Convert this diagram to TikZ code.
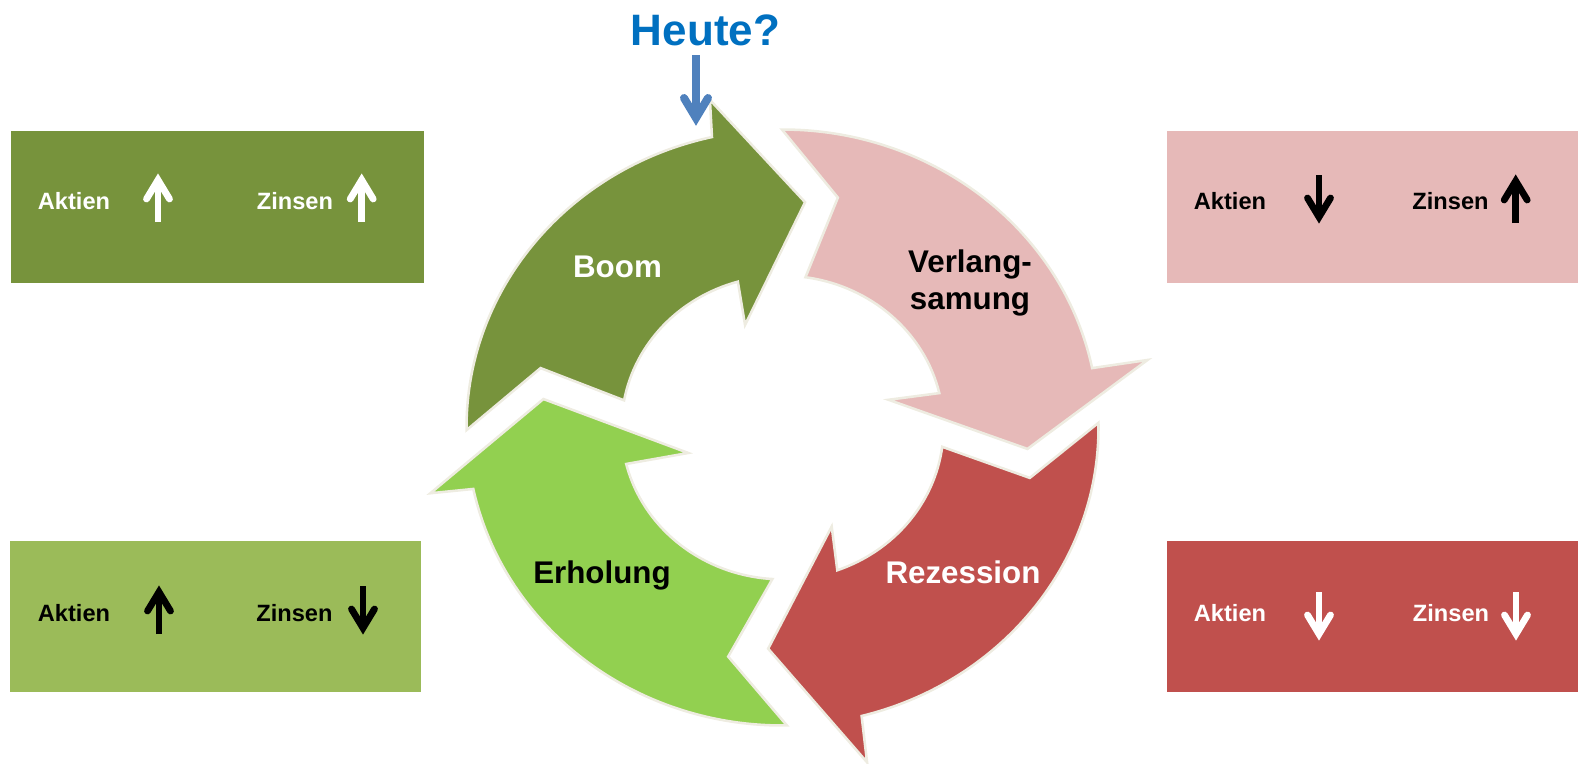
\documentclass[tikz,border=0pt]{standalone}
\usepackage{fontspec}
\setmainfont{Liberation Sans}
\definecolor{cBoom}{HTML}{77933C}
\definecolor{cVerl}{HTML}{E6B9B8}
\definecolor{cRez}{HTML}{C0504D}
\definecolor{cErh}{HTML}{92D050}
\definecolor{cBL}{HTML}{9BBB59}
\definecolor{cEdge}{HTML}{EEECE1}
\definecolor{cHeute}{HTML}{0070C0}
\definecolor{cHarrow}{HTML}{4F81BD}
\begin{document}
\begin{tikzpicture}[x=0.75pt,y=-0.75pt,
  lab/.style={font=\bfseries\fontsize{23.5}{27.75}\selectfont, inner sep=0pt},
  boxtxt/.style={font=\bfseries\fontsize{17.7}{21}\selectfont, inner sep=0pt, anchor=base},
  cyc/.style={draw=cEdge, line width=1.9pt, line join=miter},
  pics/uparr/.style={code={
    \draw[line width=5.1pt, line cap=butt] (0,24) -- (0,-14);
    \draw[line width=5.1pt, line cap=round, line join=miter] (-11.5,1) -- (0,-18) -- (11.5,1);
  }},
  pics/downarr/.style={code={
    \draw[line width=5.1pt, line cap=butt] (0,-24) -- (0,14);
    \draw[line width=5.1pt, line cap=round, line join=miter] (-11.5,-1) -- (0,18) -- (11.5,-1);
  }}
]
\useasboundingbox (0,0) rectangle (1578,764);

% side boxes
\fill[cBoom] (11,131) rectangle (424,283);
\fill[cVerl] (1167,131) rectangle (1578,283);
\fill[cBL] (10,541) rectangle (421,692);
\fill[cRez] (1167,541) rectangle (1578,692);

% cycle arrows
\begin{scope}[shift={(782.5,427.5)}, x=0.75pt, y=0.75pt, yscale=0.943]
\foreach \k/\col/\ta/\na/\nr/\ti/\ie/\ba/\br/\tpa/\tpr/\oba/\obr/\oe in {
  0/cBoom/180.5/165.4/250/169.7/106.1/109/115/84.6/240/101.8/355/102.9,
  1/cVerl/180.1/167.2/250/171.8/103.1/105.5/110/84.7/246/101.1/372/101.5,
  2/cRez/180.9/167.8/253/172.7/109.9/115.1/116/86.5/235/103.4/365/104.5,
  3/cErh/180.8/167.4/249/176.4/103.9/106/98/82.8/241/101.2/359/101.9} {
  \path[rotate=-90*\k, fill=\col, cyc]
    (\ta:316) -- (\na:\nr) -- (\ti:161)
    arc[start angle=\ti, end angle=\ie, radius=161]
    -- (\ba:\br) -- (\tpa:\tpr) -- (\oba:\obr) -- (\oe:316)
    arc[start angle=\oe, end angle=\ta, radius=316] -- cycle;
}
\end{scope}

% arrow labels
\node[lab, anchor=base, text=white] (boom) at (617.5,277) {Boom};
\node[lab, anchor=center, align=center, text=black] (verl) at (970,283) {Verlang-\\samung};
\node[lab, anchor=base, text=white] (rez) at (963,583) {Rezession};
\node[lab, anchor=base, text=black] (erh) at (602,583) {Erholung};

% Heute?
\node[font=\bfseries\fontsize{33}{40}\selectfont, text=cHeute, inner sep=0pt, anchor=base] (heute) at (705.5,45.5) {Heute?};
\coordinate (htop) at (696,55);
\coordinate (htip) at (696,118);
\draw[cHarrow, line width=6pt, line cap=butt] (htop) -- (htip);
\draw[cHarrow, line width=6pt, line cap=round, line join=miter] ([xshift=-9pt,yshift=15pt]htip) -- (htip) -- ([xshift=9pt,yshift=15pt]htip);

% box texts
\node[boxtxt, text=white] (tlA) at (74,209) {Aktien};
\node[boxtxt, text=white] (tlZ) at (295,209) {Zinsen};
\pic[white] at (158,198) {uparr};
\pic[white] at (361.7,198) {uparr};

\node[boxtxt, text=black] (trA) at (1230,209) {Aktien};
\node[boxtxt, text=black] (trZ) at (1450.5,209) {Zinsen};
\pic[black] at (1319,199) {downarr};
\pic[black] at (1515.7,199) {uparr};

\node[boxtxt, text=black] (blA) at (74,621) {Aktien};
\node[boxtxt, text=black] (blZ) at (294.5,621) {Zinsen};
\pic[black] at (159,610) {uparr};
\pic[black] at (363,610) {downarr};

\node[boxtxt, text=white] (brA) at (1230,621.5) {Aktien};
\node[boxtxt, text=white] (brZ) at (1451,621.5) {Zinsen};
\pic[white] at (1319,616) {downarr};
\pic[white] at (1516,616) {downarr};
\end{tikzpicture}
\end{document}
